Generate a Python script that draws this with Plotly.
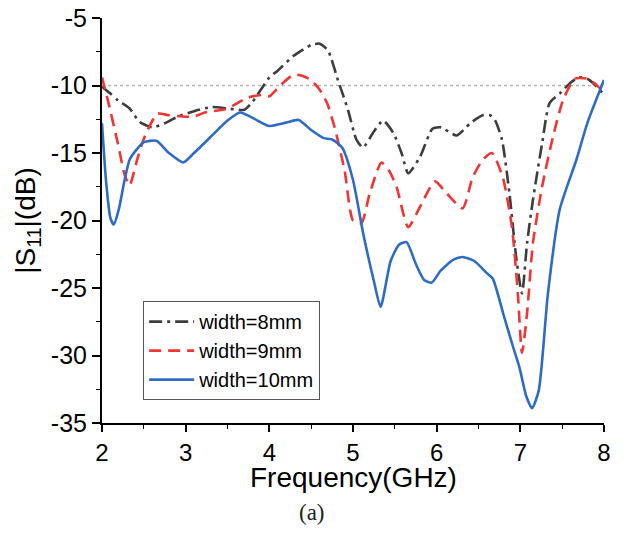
import plotly.graph_objects as go

# width = 8 mm (dash-dot)
f_8mm = [2.0, 2.1, 2.19, 2.33, 2.45, 2.6, 2.75, 2.91, 3.1, 3.31, 3.5, 3.7, 3.8, 3.9, 4.0, 4.1, 4.29, 4.5,
         4.6, 4.7, 4.82, 4.94, 5.04, 5.12, 5.24, 5.36, 5.48, 5.58, 5.66, 5.8, 5.95, 6.05, 6.24, 6.4, 6.55,
         6.64, 6.7, 6.78, 6.87, 6.95, 7.02, 7.08, 7.15, 7.26, 7.35, 7.47, 7.6, 7.7, 7.8, 7.9, 8.0]
s11_8mm = [-10.1, -10.6, -11.1, -11.7, -12.7, -13.1, -12.8, -12.3, -11.9, -11.6, -11.7, -11.8, -11.2, -10.3,
           -9.4, -8.9, -7.8, -7.0, -6.9, -7.4, -9.6, -11.8, -14.0, -14.6, -13.5, -12.6, -13.5, -15.0, -16.5,
           -15.3, -13.2, -13.1, -13.7, -12.8, -12.2, -12.2, -12.6, -14.0, -18.0, -22.7, -25.4, -21.7, -18.5,
           -14.3, -11.3, -10.6, -9.8, -9.4, -9.5, -10.0, -10.7]

# width = 9 mm (dashed)
f_9mm = [2.0, 2.07, 2.19, 2.27, 2.33, 2.42, 2.51, 2.66, 2.8, 2.96, 3.1, 3.23, 3.5, 3.74, 3.91, 4.0, 4.13,
         4.29, 4.4, 4.5, 4.6, 4.69, 4.78, 4.9, 5.0, 5.1, 5.2, 5.34, 5.43, 5.52, 5.66, 5.8, 5.98, 6.12, 6.31,
         6.43, 6.55, 6.66, 6.79, 6.9, 6.97, 7.02, 7.08, 7.15, 7.26, 7.39, 7.51, 7.65, 7.8, 7.9, 8.0]
s11_9mm = [-9.4, -11.1, -14.3, -16.6, -17.4, -15.5, -13.8, -12.1, -12.2, -12.3, -12.3, -12.0, -11.7, -10.9,
           -10.7, -10.8, -10.0, -9.2, -9.3, -9.6, -10.3, -11.3, -13.1, -16.3, -20.0, -20.2, -18.0, -15.7,
           -16.3, -17.5, -20.5, -19.0, -17.1, -18.0, -19.1, -16.8, -15.5, -15.0, -16.8, -20.5, -25.4, -29.8,
           -26.9, -21.7, -17.5, -13.8, -11.1, -9.5, -9.5, -9.9, -10.5]

# width = 10 mm (solid)
f_10mm = [2.0, 2.05, 2.1, 2.14, 2.2, 2.27, 2.33, 2.42, 2.5, 2.65, 2.8, 2.97, 3.1, 3.3, 3.5, 3.65, 3.8, 4.0,
          4.2, 4.35, 4.5, 4.65, 4.75, 4.87, 5.0, 5.12, 5.25, 5.33, 5.45, 5.55, 5.64, 5.75, 5.85, 5.94, 6.05,
          6.2, 6.31, 6.45, 6.6, 6.67, 6.8, 6.92, 6.99, 7.07, 7.14, 7.22, 7.33, 7.47, 7.67, 7.8, 8.0]
s11_10mm = [-12.8, -17.2, -19.8, -20.3, -19.2, -17.0, -15.5, -14.7, -14.2, -14.1, -15.0, -15.7, -15.0, -13.8,
            -12.6, -12.0, -12.4, -13.0, -12.75, -12.55, -13.3, -13.9, -14.0, -14.6, -17.0, -20.9, -24.5,
            -26.4, -23.0, -21.8, -21.6, -23.2, -24.4, -24.6, -23.7, -22.9, -22.7, -23.0, -23.9, -24.3, -27.0,
            -29.5, -30.9, -33.0, -33.9, -32.6, -25.4, -19.2, -15.5, -12.8, -9.6]

series_names = ["width=8mm", "width=9mm", "width=10mm"]
x_ticks = [2, 3, 4, 5, 6, 7, 8]
y_ticks = [-35, -30, -25, -20, -15, -10, -5]
threshold_db = -10

FONT = "Liberation Sans, Arial, sans-serif"

fig = go.Figure()
fig.add_trace(go.Scatter(x=f_8mm, y=s11_8mm, mode="lines", name=series_names[0],
                         line=dict(color="#3d3d3d", width=2.6, dash="13px,5px,3px,5px",
                                   shape="spline", smoothing=0.6)))
fig.add_trace(go.Scatter(x=f_9mm, y=s11_9mm, mode="lines", name=series_names[1],
                         line=dict(color="#f03535", width=2.6, dash="12px,7px",
                                   shape="spline", smoothing=0.6)))
fig.add_trace(go.Scatter(x=f_10mm, y=s11_10mm, mode="lines", name=series_names[2],
                         line=dict(color="#2e6cc4", width=2.6,
                                   shape="spline", smoothing=0.6)))

fig.add_shape(type="line", xref="paper", yref="y", x0=0, x1=1, y0=threshold_db, y1=threshold_db,
              line=dict(color="#b5b5b5", width=1.3, dash="dot"), layer="below")

axis_common = dict(showgrid=False, zeroline=False, showline=True, linecolor="black", linewidth=2,
                   ticks="outside", tickwidth=1.6, tickcolor="black", automargin=False,
                   ticklabeloverflow="allow")

fig.update_xaxes(range=[2, 8], tickvals=x_ticks, ticktext=[str(v) for v in x_ticks], ticklen=7,
                 tickfont=dict(family=FONT, size=24, color="black"),
                 minor=dict(dtick=0.5, ticks="outside", ticklen=4, tickwidth=1.4, tickcolor="black"),
                 **axis_common)
fig.update_yaxes(range=[-35, -5], tickvals=y_ticks, ticktext=[str(v) for v in y_ticks], ticklen=8,
                 tickfont=dict(family=FONT, size=25, color="black"),
                 minor=dict(dtick=2.5, ticks="outside", ticklen=4, tickwidth=1.4, tickcolor="black"),
                 title=dict(text="|S<sub>11</sub>|(dB)", standoff=7,
                            font=dict(family=FONT, size=28, color="black")),
                 **axis_common)

fig.add_annotation(text="Frequency(GHz)", xref="paper", yref="paper", x=0.5, y=0,
                   xanchor="center", yanchor="middle", yshift=-54, showarrow=False,
                   font=dict(family=FONT, size=28, color="black"))
fig.add_annotation(text="(a)", xref="paper", yref="paper", x=0, y=0,
                   xanchor="center", yanchor="middle", xshift=210, yshift=-89, showarrow=False,
                   font=dict(family="Liberation Serif, Times New Roman, serif", size=23, color="#222"))

# page body has an 8px margin: figure is sized/offset to land on the reference pixels
fig.update_layout(
    width=615, height=528,
    margin=dict(l=94, r=19, t=10, b=113),
    paper_bgcolor="white", plot_bgcolor="white",
    showlegend=True,
    legend=dict(x=0.082, y=0.301, xanchor="left", yanchor="top",
                bordercolor="#555", borderwidth=1, bgcolor="white",
                font=dict(family=FONT, size=20, color="black"),
                itemwidth=45, tracegroupgap=0),
)

fig.write_html("out.html")
